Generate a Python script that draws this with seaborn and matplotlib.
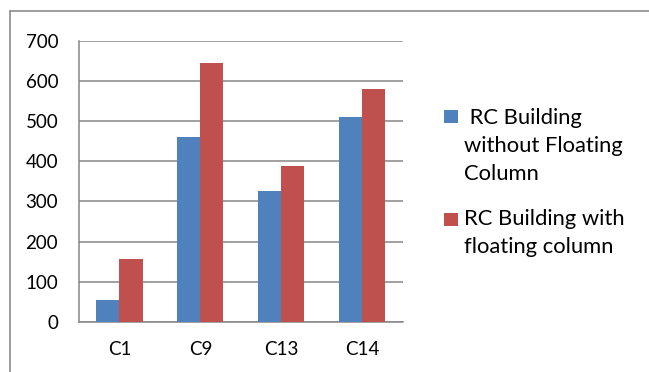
import matplotlib
matplotlib.use("Agg")
import matplotlib.pyplot as plt
from matplotlib.lines import Line2D
from matplotlib.patches import Rectangle
import seaborn as sns
import pandas as pd

categories = ["C1", "C9", "C13", "C14"]
without_floating = [55, 460, 325, 509]
with_floating = [158, 645, 387, 579]
series_names = ["RC Building without Floating Column", "RC Building with floating column"]
legend_lines = [[" RC Building", "without Floating", "Column"],
                ["RC Building with", "floating column"]]
yticks = [0, 100, 200, 300, 400, 500, 600, 700]
colors = ["#4F81BD", "#C0504D"]

df = pd.DataFrame({
    "cat": categories * 2,
    "val": without_floating + with_floating,
    "series": [series_names[0]] * len(categories) + [series_names[1]] * len(categories),
})

sns.set_style("white")
plt.rcParams["font.family"] = ["Lato", "DejaVu Sans"]

W, H = 649, 372
fig = plt.figure(figsize=(W / 100, H / 100), dpi=100)
ax = fig.add_axes([79 / W, 1 - 322 / H, (402.7 - 79) / W, (322 - 40.7) / H])

sns.barplot(data=df, x="cat", y="val", hue="series", order=categories,
            hue_order=series_names, palette=colors, width=0.57, gap=0,
            saturation=1, linewidth=0, legend=False, ax=ax, zorder=3)

grid_c = "#868686"
tick_fs = 13.5
ax.set_ylim(0, 700)
ax.set_xlim(-0.5, len(categories) - 0.5)
ax.set_yticks(yticks)
ax.set_yticklabels([str(v) for v in yticks], fontsize=tick_fs, color="black")
ax.yaxis.grid(True, color=grid_c, linewidth=1.1, zorder=0)
ax.set_axisbelow(True)

# x ticks at category boundaries, labels at centers
ax.set_xticks([i - 0.5 for i in range(len(categories) + 1)])
ax.set_xticklabels([])
ax.set_xticks(range(len(categories)), minor=True)
ax.set_xticklabels(categories, minor=True, fontsize=tick_fs, color="black")
ax.tick_params(axis="x", which="major", length=5, width=1, color=grid_c, direction="out")
ax.tick_params(axis="x", which="minor", length=0, pad=14)
ax.tick_params(axis="y", which="major", length=5, width=1, color=grid_c, direction="out", pad=10)

ax.set_xlabel("")
ax.set_ylabel("")
for s in ["top", "right"]:
    ax.spines[s].set_visible(False)
for s in ["left", "bottom"]:
    ax.spines[s].set_color(grid_c)
    ax.spines[s].set_linewidth(1.1)

# outer chart border (top and left)
border_c = "#8c8c8c"
fig.add_artist(Line2D([9.5 / W, 1], [1 - 11 / H, 1 - 11 / H], color=border_c, linewidth=1.2,
                      transform=fig.transFigure))
fig.add_artist(Line2D([9.5 / W, 9.5 / W], [0, 1 - 11 / H], color=border_c, linewidth=1.2,
                      transform=fig.transFigure))

# legend
leg_font = 15.8
sq = [(444, 110, colors[0]), (444, 213, colors[1])]
baselines = [[124, 152, 180], [225, 253]]
text_x = [[464, 464, 464], [464, 464]]
for (x0, y0, c), lines, bls, txs in zip(sq, legend_lines, baselines, text_x):
    fig.add_artist(Rectangle((x0 / W, 1 - (y0 + 12.5) / H), 13.5 / W, 12.5 / H,
                             facecolor=c, edgecolor="none", transform=fig.transFigure))
    for line, b, tx in zip(lines, bls, txs):
        fig.text(tx / W, 1 - b / H, line, fontsize=leg_font, va="baseline", ha="left",
                 color="black")

fig.savefig("out.png", dpi=100)
